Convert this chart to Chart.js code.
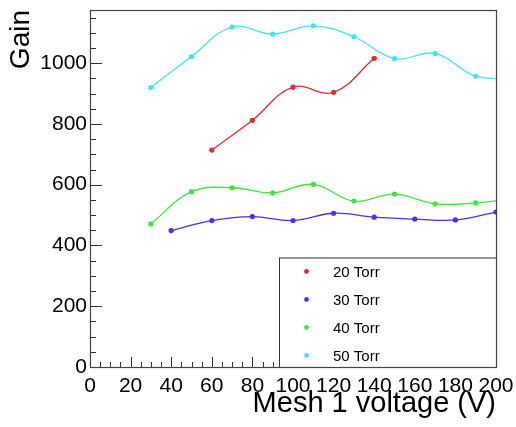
<!DOCTYPE html>
<html>
<head>
<meta charset="utf-8">
<script src="https://cdn.jsdelivr.net/npm/chart.js@4/dist/chart.umd.min.js"></script>
<style>
html,body{margin:0;padding:0;background:#fff;}
#wrap{width:516px;height:427px;position:relative;}
</style>
</head>
<body>
<div id="wrap"><canvas id="c" width="516" height="427"></canvas></div>
<script>
// ---- data ----
const seriesLabels = ["20 Torr", "30 Torr", "40 Torr", "50 Torr"];
const voltage20 = [60, 80, 100, 120, 140];
const gain20    = [714, 812, 921, 904, 1016];
const voltage30 = [40, 60, 80, 100, 120, 140, 160, 180, 200];
const gain30    = [449, 482, 495, 482, 506, 493, 487, 484, 510];
const voltage40 = [30, 50, 70, 90, 110, 130, 150, 170, 190, 210];
const gain40    = [471, 577, 590, 573, 601, 546, 569, 537, 540, 556];
const voltage50 = [30, 50, 70, 90, 110, 130, 150, 170, 190, 210];
const gain50    = [920, 1022, 1119, 1096, 1123, 1087, 1015, 1032, 957, 950];
const yTickValues = [0, 200, 400, 600, 800, 1000];
const xTitle = "Mesh 1 voltage (V)";
const yTitle = "Gain";

const colors = ["#e8262e", "#4b30ee", "#3fe43f", "#3fe6e6"];
const FONT = "'Liberation Sans', Arial, Helvetica, sans-serif";

function pts(xs, ys){ return xs.map((x,i)=>({x:x, y:ys[i]})); }
const seriesData = [pts(voltage20,gain20), pts(voltage30,gain30), pts(voltage40,gain40), pts(voltage50,gain50)];

const datasets = seriesData.map((d,i)=>({
  label: seriesLabels[i],
  data: d,
  borderColor: colors[i],
  backgroundColor: colors[i],
  borderWidth: 1.3,
  pointRadius: 2.6,
  pointBorderWidth: 0,
  pointBackgroundColor: colors[i],
  tension: 0.4,
  fill: false,
  clip: 0
}));

const framePlugin = {
  id: 'frame',
  beforeDatasetsDraw(chart){
    const ctx = chart.ctx, a = chart.chartArea;
    const xs = chart.scales.x, ys = chart.scales.y;
    ctx.save();
    ctx.strokeStyle = '#333';
    ctx.lineWidth = 1;
    ctx.beginPath();
    for (let v = 0; v <= 200; v += 5) {
      const px = Math.round(xs.getPixelForValue(v)) + 0.5;
      const len = (v % 20 === 0) ? 10 : 5;
      ctx.moveTo(px, a.bottom); ctx.lineTo(px, a.bottom - len);
    }
    for (let v = 0; v <= ys.max; v += 50) {
      const py = Math.round(ys.getPixelForValue(v)) + 0.5;
      const len = (v % 200 === 0) ? 12 : 6;
      ctx.moveTo(a.left, py); ctx.lineTo(a.left + len, py);
    }
    ctx.stroke();
    ctx.restore();
  },
  afterDraw(chart){
    const ctx = chart.ctx, a = chart.chartArea;
    ctx.save();
    const lx = 279, ly = 257.5, lr = a.right, lb = a.bottom;
    ctx.fillStyle = '#fff';
    ctx.fillRect(lx, ly, lr - lx, lb - ly);
    ctx.strokeStyle = '#333';
    ctx.lineWidth = 1;
    ctx.strokeRect(lx + 0.5, ly + 0.5, lr - lx, lb - ly);
    const rowsY = [271.5, 299.5, 327.5, 355.5];
    ctx.font = "15px " + FONT;
    ctx.textBaseline = 'middle';
    ctx.textAlign = 'left';
    chart.data.datasets.forEach((ds, i)=>{
      ctx.fillStyle = ds.borderColor;
      ctx.beginPath();
      ctx.arc(306.5, rowsY[i], 2.4, 0, Math.PI*2);
      ctx.fill();
      ctx.fillStyle = '#000';
      ctx.fillText(ds.label, 333, rowsY[i] + 1);
    });
    ctx.strokeStyle = '#444';
    ctx.lineWidth = 1.2;
    ctx.strokeRect(Math.round(a.left)+0.5, Math.round(a.top)+0.5, Math.round(a.right-a.left), Math.round(a.bottom-a.top));
    ctx.restore();
  }
};

new Chart(document.getElementById('c'), {
  type: 'line',
  data: { datasets: datasets },
  options: {
    responsive: false,
    animation: false,
    devicePixelRatio: 1,
    layout: { padding: { top: 10, right: 20, left: 0, bottom: 0 } },
    plugins: { legend: { display: false }, tooltip: { enabled: false } },
    scales: {
      x: {
        type: 'linear', min: 0, max: 200,
        grid: { display: false, drawTicks: false },
        border: { display: false },
        ticks: { stepSize: 20, padding: 7, color: '#000', font: { family: FONT, size: 21 }, maxRotation: 0, autoSkip: false, callback: v => String(v) },
        title: { display: true, text: xTitle, align: 'end', color: '#000', font: { family: FONT, size: 29 }, padding: { top: 0, bottom: 6 } },
        afterFit(s){ s.height = 60; s.paddingLeft = 0; s.paddingRight = 0; }
      },
      y: {
        type: 'linear', min: 0, max: 1175,
        grid: { display: false, drawTicks: false },
        border: { display: false },
        afterBuildTicks(s){ s.ticks = yTickValues.map(v=>({value:v})); },
        ticks: { padding: 3, color: '#000', font: { family: FONT, size: 21 }, callback: v => String(v) },
        title: { display: true, text: yTitle, align: 'end', color: '#000', font: { family: FONT, size: 28 }, padding: { top: 4, bottom: 0 } },
        afterFit(s){ s.width = 90; s.paddingTop = 0; s.paddingBottom = 0; }
      }
    }
  },
  plugins: [framePlugin]
});
</script>
</body>
</html>
